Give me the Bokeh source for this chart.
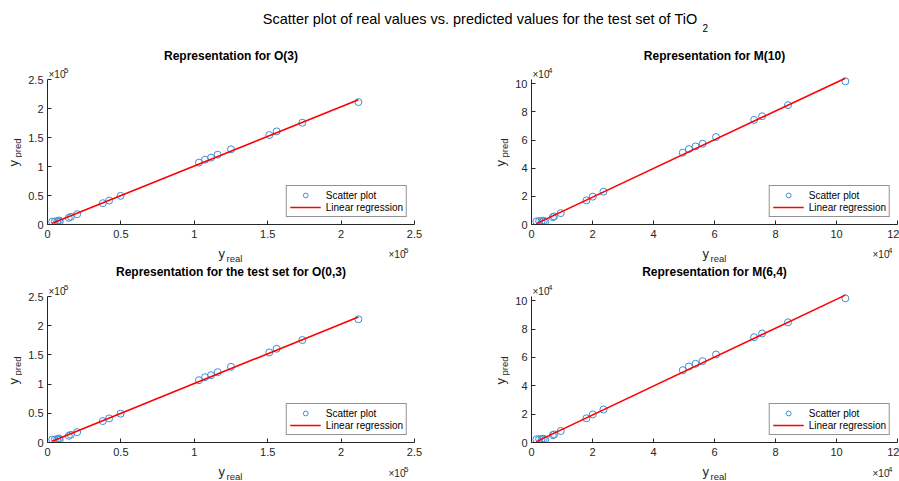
import numpy as np
from bokeh.plotting import figure
from bokeh.layouts import column, row
from bokeh.models import Label, Legend, LegendItem, FixedTicker, Range1d
from bokeh.embed import file_html
from bokeh.resources import INLINE

# ---- data -------------------------------------------------------------
# O representation: real vs. predicted values
o_real = [211800, 173600, 156100, 151100, 125000, 115900, 111400, 107300, 103200,
          49800, 42000, 37700, 20200, 15900, 14500, 8400, 7800, 6600, 5000, 3200]
o_pred = [211000, 175500, 160500, 154200, 129600, 120400, 115300, 111800, 106700,
          49300, 41300, 36700, 17800, 13200, 11500, 5000, 6900, 5700, 5000, 5000]
o_fit = [1.02, -1000.0]          # slope, intercept of the regression line

# M representation: real vs. predicted values
m_real = [102900, 84100, 75600, 73000, 60500, 56100, 53800, 51600, 49600,
          23600, 20100, 18000, 9600, 7400, 7000, 4500, 4000, 3300, 2500, 1600]
m_pred = [101700, 84800, 76900, 74300, 62100, 57400, 55500, 53600, 51000,
          23300, 19800, 17100, 8100, 5700, 5200, 2000, 2600, 2500, 2400, 2200]
m_fit = [1.02, -1000.0]

# axis ticks and their labels
o_ticks = [0, 50000, 100000, 150000, 200000, 250000]
o_tick_labels = ["0", "0.5", "1", "1.5", "2", "2.5"]
m_xticks = [0, 20000, 40000, 60000, 80000, 100000, 120000]
m_xtick_labels = ["0", "2", "4", "6", "8", "10", "12"]
m_yticks = [0, 20000, 40000, 60000, 80000, 100000]
m_ytick_labels = ["0", "2", "4", "6", "8", "10"]

o_lim = 250000
m_xlim = 120000
m_ylim = 103000

FONT = "Liberation Sans"
DARK = "#262626"
BLUE = "#3a8fd6"
BASE_SHIFT = 0.3   # lifts Label text so that (x, y) is the visible baseline


def text(p, x, y, s, size, angle=0.0, align="left", bold=False, color=DARK):
    """Place a text in screen pixels, measured from the frame's lower-left corner."""
    dx = -np.sin(angle) * BASE_SHIFT * size
    dy = np.cos(angle) * BASE_SHIFT * size
    p.add_layout(Label(x=x + dx, y=y + dy, x_units="screen", y_units="screen",
                       text=s, text_font=FONT, text_font_size=f"{size}px",
                       text_font_style="bold" if bold else "normal",
                       text_color=color, text_align=align,
                       text_baseline="alphabetic", angle=angle))


def strip(w, h):
    """Blank canvas that only carries texts."""
    s = figure(frame_width=w, frame_height=h, min_border=0, title=None,
               x_axis_type=None, y_axis_type=None,
               x_range=Range1d(0, 1), y_range=Range1d(0, 1),
               toolbar_location=None, output_backend="svg")
    s.outline_line_color = None
    s.grid.visible = False
    return s


def panel(title, real, pred, fit, xmax, ymax, xt, xtl, yt, ytl, exp,
          fw, axis_h, head_h, bl, br, title_y):
    # the frame reaches above the y axis so the heading and the
    # exponent marker sit inside it; the axis itself stops at ymax
    fh = axis_h + head_h
    p = figure(frame_width=fw, frame_height=fh, min_border_left=bl,
               min_border_right=br, min_border_top=0, min_border_bottom=20,
               title=None,
               x_range=Range1d(0, xmax), y_range=Range1d(0, ymax * fh / axis_h),
               toolbar_location=None, output_backend="svg")
    p.outline_line_color = None
    p.grid.visible = False
    p.background_fill_color = "white"
    p.border_fill_color = "white"

    for ax, ticks, labels, lim in ((p.xaxis[0], xt, xtl, xmax),
                                   (p.yaxis[0], yt, ytl, ymax)):
        ax.bounds = (0, lim)
        ax.ticker = FixedTicker(ticks=ticks)
        ax.major_label_overrides = {t: l for t, l in zip(ticks, labels)}
        ax.minor_tick_line_color = None
        ax.major_tick_in = 4
        ax.major_tick_out = 0
        ax.axis_line_color = DARK
        ax.major_tick_line_color = DARK
        ax.major_label_text_color = DARK
        ax.major_label_text_font = FONT
        ax.major_label_text_font_size = "11px"
    p.xaxis.major_label_standoff = 5
    p.yaxis.major_label_standoff = 4

    sc = p.scatter(real, pred, marker="circle", size=7, fill_color=None,
                   line_color=BLUE, line_width=1)
    xs = np.array([min(real), max(real)], dtype=float)
    ln = p.line(xs, fit[0] * xs + fit[1], line_color="#FF0000", line_width=1.6)

    leg = Legend(items=[LegendItem(label="Scatter plot", renderers=[sc]),
                        LegendItem(label="Linear regression", renderers=[ln])],
                 location="bottom_right", margin=7, padding=3, spacing=0,
                 glyph_width=31, glyph_height=12, label_height=12,
                 label_standoff=5, label_text_font=FONT,
                 label_text_font_size="10px", label_text_color="black",
                 border_line_color=DARK, border_line_width=1,
                 background_fill_alpha=1.0)
    p.add_layout(leg)

    text(p, fw / 2, title_y, title, 12, align="center", bold=True, color="black")
    text(p, 1, axis_h + 2, "\u00d710", 10)
    text(p, 16.5, axis_h + 7, exp, 8)
    return p


def ylabel(s, x, y0):
    text(s, x, y0, "y", 13, angle=np.pi / 2)
    text(s, x + 3, y0 + 9, "pred", 9.5, angle=np.pi / 2)


def xlabel(s, x, y0):
    text(s, x, y0, "y", 13)
    text(s, x + 8, y0 - 4, "real", 9.5)


def xexp(s, x, y0, exp):
    text(s, x, y0, "\u00d710", 10)
    text(s, x + 15.5, y0 + 5, exp, 8)


# overall heading
head = strip(899, 40)
text(head, 697, 17,
     "Scatter plot of real values vs. predicted values for the test set of TiO",
     14.5, align="right", color="black")
text(head, 702, 10, "2", 10, color="black")

# first row
p1 = panel("Representation for O(3)", o_real, o_pred, o_fit, o_lim, o_lim,
           o_ticks, o_tick_labels, o_ticks, o_tick_labels, "5",
           367, 145, 39, 25, 56, 165)
p2 = panel("Representation for M(10)", m_real, m_pred, m_fit, m_xlim, m_ylim,
           m_xticks, m_xtick_labels, m_yticks, m_ytick_labels, "4",
           366, 145, 39, 21, 2, 165)
yl1 = strip(22, 204)
ylabel(yl1, 17, 78)
ym1 = strip(40, 204)
ylabel(ym1, 33.5, 78)

xl1 = strip(899, 21)
xlabel(xl1, 218, 8)
xlabel(xl1, 702, 8)
xexp(xl1, 388, 8, "5")
xexp(xl1, 872, 8, "4")

# second row
p3 = panel("Representation for the test set for O(0,3)", o_real, o_pred, o_fit,
           o_lim, o_lim, o_ticks, o_tick_labels, o_ticks, o_tick_labels, "5",
           367, 146, 31, 25, 56, 167)
p4 = panel("Representation for M(6,4)", m_real, m_pred, m_fit, m_xlim, m_ylim,
           m_xticks, m_xtick_labels, m_yticks, m_ytick_labels, "4",
           366, 146, 31, 21, 2, 167)
yl2 = strip(22, 197)
ylabel(yl2, 17, 78)
ym2 = strip(40, 197)
ylabel(ym2, 33.5, 78)

xl2 = strip(899, 19)
xlabel(xl2, 218, 6)
xlabel(xl2, 702, 6)
xexp(xl2, 388, 5, "5")
xexp(xl2, 872, 5, "4")

layout = column(head,
                row(yl1, p1, ym1, p2),
                xl1,
                row(yl2, p3, ym2, p4),
                xl2)

with open("out.html", "w") as f:
    f.write(file_html(layout, INLINE))
